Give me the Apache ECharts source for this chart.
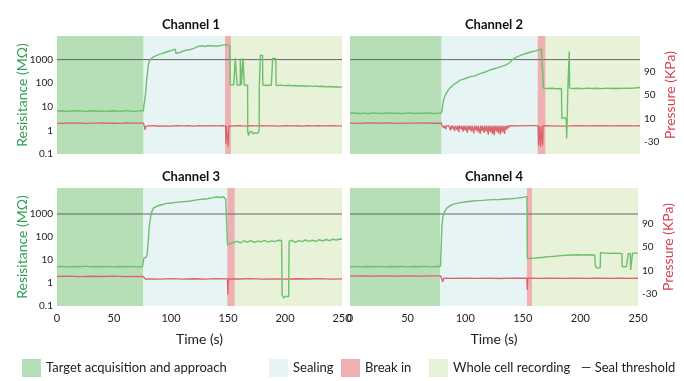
<!DOCTYPE html>
<html>
<head>
<meta charset="utf-8">
<script src="https://cdn.jsdelivr.net/npm/echarts@6/dist/echarts.min.js"></script>
<style>
  html, body { margin: 0; padding: 0; background: #fff; }
  #chart { width: 684px; height: 381px; }
</style>
</head>
<body>
<div id="chart"></div>
<script>
// ---- data ----
const channels = ['Channel 1', 'Channel 2', 'Channel 3', 'Channel 4'];
const phases = ['Target acquisition and approach', 'Sealing', 'Break in', 'Whole cell recording'];
const phaseColors = ['#b6dfb7', '#e6f4f4', '#efb0b3', '#e8f2d8'];
// phase boundaries in seconds, per channel
const phaseEdges = [
  [0, 76, 147.4, 152.6, 250],
  [0, 79, 161.8, 168.7, 250],
  [0, 75.7, 149.4, 156, 250],
  [0, 78.3, 153.6, 158, 250]
];
const sealThreshold = 1000;
const resTicks = [0.1, 1, 10, 100, 1000];
const presTicks = [-30, 10, 50, 90];

// resistance (MOhm) [time s, value]
const ch1Res = [
  [0,6.5],[4,6.8],[8,6.3],[12,6.7],[16,6.6],[20,6.9],[24,6.4],[28,6.6],[32,6.8],[36,6.5],[40,6.7],[44,6.4],[48,6.8],[52,6.6],[56,6.5],[60,6.9],[64,6.6],[68,6.4],[72,6.7],[75.8,6.8],
  [76.3,12],[77,20],[77.8,40],[78.5,120],[79.3,260],[80.2,600],[81,900],[82,1050],[84,1250],[86,1400],[88,1550],[90,1700],[92,1800],[94,1950],[96,2100],[98,2250],[100,2400],[102,2600],[103.8,2750],[104.3,1850],[106,1900],[108,2000],[110,2250],[112,2400],[114,2550],[116,2600],[118,2800],[120,3000],[122,3300],[124,3600],[126,3800],[128,3750],[130,3600],[132,3850],[134,3900],[136,3750],[138,3800],[140,3700],[142,3850],[144,3900],[146,4200],[147.4,4700],[148.5,4300],[150,4000],[151.5,3900],
  [152,85],[153.5,82],[155,86],[156.3,84],[156.4,1150],[157.2,1050],[157.9,1150],[158,83],[159.5,85],[160.7,82],[160.8,1100],[161.6,1150],[161.7,84],[163.1,82],[163.2,1150],[164.2,1100],[164.3,83],[166,85],[167.2,82],
  [167.3,0.9],[168,0.6],[169,0.85],[170,0.75],[171,0.9],[172,0.7],[173,0.85],[174,0.8],[175,0.9],[176,0.75],[177.3,0.95],
  [177.5,85],[178.3,82],[178.4,1550],[179.3,1350],[180.3,1500],[180.5,84],[182,86],[184,80],[186,83],[188,81],[189.1,84],[189.2,1150],[190.5,1250],[192,1100],[192.2,82],
  [194,80],[197,83],[200,79],[203,82],[206,78],[209,80],[212,76],[215,78],[218,74],[221,77],[224,73],[227,75],[230,72],[233,74],[236,70],[239,72],[242,69],[245,71],[248,68],[250,70]
];
const ch2Res = [
  [0,5.3],[4,5.5],[8,5.2],[12,5.4],[16,5.1],[20,5.5],[24,5.3],[28,5.2],[32,5.5],[36,5.3],[40,5.4],[44,5.2],[48,5.3],[52,5.5],[56,5.2],[60,5.4],[64,5.3],[68,5.5],[72,5.2],[76,5.4],[78.8,5.5],
  [79.5,8],[80.5,18],[82,30],[84,45],[86,62],[88,75],[90,92],[92,105],[95,135],[98,150],[101,170],[104,190],[107,200],[110,230],[113,260],[116,290],[119,340],[122,380],[125,420],[128,470],[131,520],[134,580],[137,700],[139,900],[141,1100],[144,1300],[147,1500],[150,1700],[153,1900],[156,2100],[159,2300],[162,2500],[165,2800],[166.5,2900],
  [166.8,62],[170,60],[174,61],[178,58],[182.3,60],[182.6,3.2],[184,2.8],[185.5,3.5],[186.5,2.5],[186.8,0.45],[187.2,2.5],[187.8,60],[188.7,62],[189,2200],[189.3,62],
  [193,60],[197,61],[201,59],[205,62],[209,60],[213,61],[217,59],[221,62],[225,60],[229,61],[233,60],[237,62],[241,61],[245,63],[250,66]
];
const ch3Res = [
  [0,5.1],[5,5.3],[10,5],[15,5.2],[20,5.1],[25,5.4],[30,5],[35,5.2],[40,5.1],[45,5.3],[50,5],[55,5.2],[60,5.1],[65,5.3],[70,5],[75,5.2],[75.8,5.3],
  [76.2,12],[77,11],[78,13],[79,17],[80,60],[81,300],[82,700],[83,1200],[84.5,1800],[87,2100],[90,2400],[93,2600],[96,2900],[100,3000],[104,3200],[108,3300],[112,3500],[116,3600],[120,3900],[124,4200],[128,4400],[132,4600],[136,5000],[140,5500],[143,5200],[146,5600],[148,4400],[149,4600],
  [149.6,45],[152,52],[155,58],[158,65],[161,55],[164,68],[167,60],[170,70],[173,58],[176,66],[179,62],[182,72],[185,60],[188,68],[191,63],[194,72],[197,70],
  [197.5,0.3],[199,0.22],[200.5,0.27],[202,0.24],[203.2,0.25],[203.6,65],
  [206,72],[209,58],[212,70],[215,63],[218,75],[221,65],[224,72],[227,64],[230,76],[233,68],[236,78],[239,70],[242,80],[245,74],[248,82],[250,80]
];
const ch4Res = [
  [0,5.1],[5,5.3],[10,5],[15,5.2],[20,5.1],[25,5.3],[30,5],[35,5.2],[40,5.1],[45,5.3],[50,5],[55,5.2],[60,5.1],[65,5.3],[70,5],[75,5.2],[78.5,5.2],
  [79.5,5.5],[79.8,300],[80.5,700],[82,1200],[84,1800],[87,2300],[90,2700],[93,2900],[97,3200],[101,3400],[105,3600],[110,3800],[115,3900],[120,4100],[125,4200],[130,4300],[135,4500],[140,4600],[145,4900],[150,5300],[153.6,5800],
  [153.9,12],[158,11.8],[163,12.5],[168,13.2],[173,14],[178,14.5],[183,15.5],[188,16],[193,16.5],[198,16.8],[203,16.5],[208,17],[212.5,16.5],
  [213,5.5],[214.5,4.5],[216,5],[217.2,4.6],[217.5,21],[218,25],[219,20],[224,19.5],[229,20],[234,19.5],[236,19.5],
  [236.3,5],[238,4.5],[240,5.2],[241.2,4.6],[241.5,19],[243.3,19],[243.6,3.7],[245,4],[245.3,20],[250,20]
];

// pressure (kPa) [time s, value]
const ch1Pres = [
  [0,2.5],[5,2],[10,2.8],[15,2.2],[20,2.6],[25,1.9],[30,2.5],[35,2.2],[40,2.8],[45,2.1],[50,2.5],[55,2],[60,2.7],[65,2.2],[70,2.5],[75.8,2.3],
  [76.5,-2],[77.3,-9],[78,-3],[80,-2.5],[85,-2],[90,-3],[95,-2.2],[100,-2.6],[105,-1.9],[110,-2.5],[115,-2.1],[120,-2.8],[125,-2],[130,-2.4],[135,-1.8],[140,-2.3],[145,-2],[147.9,-2.2],
  [148.2,-33],[148.5,-3],[150,-2.5],[150.3,-37],[150.7,-3],[152,-2.2],[155,-2.5],[160,-2],[165,-2.6],[170,-2.1],[175,-2.4],[180,-1.9],[185,-2.5],[190,-2.2],[195,-2.6],[200,-2],
  [205,-2.4],[210,-2.1],[215,-2.6],[220,-2],[225,-2.3],[230,-1.9],[235,-2.5],[240,-2.1],[245,-2.4],[250,-2.2]
];
const ch2Pres = [
  [0,2.5],[8,2],[16,2.8],[24,2.2],[32,2.6],[40,2],[48,2.5],[56,2.2],[64,2.7],[72,2.1],[78.8,2.4],
  [79.3,-2],[80.5,-2],[81,-6],[81.3,-2],[82.5,-2],[82.8,-8],[83.1,-2],[84.5,-2],[84.8,-5],[85.1,-2],[86.5,-2],[86.8,-10],[87.1,-2],[88,-2],[88.3,-7],[88.6,-2],
  [90,-2],[90.3,-11],[90.6,-2],[92,-2],[92.3,-9],[92.6,-2],[93.5,-2],[93.8,-13],[94.1,-2],[95.5,-2],[95.8,-8],[96.1,-2],[97.3,-2],[97.6,-12],[97.9,-2],[99,-2],[99.3,-10],[99.6,-2],
  [101,-2],[101.3,-14],[101.6,-2],[102.6,-2],[102.9,-9],[103.2,-2],[104.5,-2],[104.8,-12],[105.1,-2],[106.5,-2],[106.8,-15],[107.1,-2],[108.3,-2],[108.6,-10],[108.9,-2],
  [110,-2],[110.3,-13],[110.6,-2],[112,-2],[112.3,-16],[112.6,-2],[113.6,-2],[113.9,-11],[114.2,-2],[115.5,-2],[115.8,-14],[116.1,-2],[117.3,-2],[117.6,-12],[117.9,-2],
  [119,-2],[119.3,-17],[119.6,-2],[120.8,-2],[121.1,-13],[121.4,-2],[122.5,-2],[122.8,-16],[123.1,-2],[124.2,-2],[124.5,-18],[124.8,-2],[126,-2],[126.3,-12],[126.6,-2],
  [127.7,-2],[128,-15],[128.3,-2],[129.5,-2],[129.8,-17],[130.1,-2],[131.2,-2],[131.5,-13],[131.8,-2],[133,-2],[133.3,-16],[133.6,-2],[134.8,-2],[135.1,-9],[135.4,-2],
  [136.5,-2],[136.8,-6],[137.1,-2],
  [145,-2.5],[155,-2],[162.2,-2],[162.5,-36],[162.9,-3],[164,-2.5],[164.3,-38],[164.7,-3],[165.8,-2.4],[166.1,-35],[166.5,-2],
  [175,-2.3],[185,-2.6],[195,-2],[205,-2.4],[215,-2.1],[225,-2.5],[235,-2],[245,-2.3],[250,-2.1]
];
const ch3Pres = [
  [0,0],[10,0.5],[20,-0.3],[30,0.4],[40,0],[50,0.6],[60,-0.2],[70,0.3],[75.5,0],
  [76.5,-3],[78,-5],[80,-4],[90,-4.5],[100,-3.6],[110,-4.3],[120,-3.8],[130,-4.4],[140,-3.7],[149.5,-4],[149.9,-31],[150.3,-4],
  [160,-4.2],[170,-3.7],[180,-4.4],[190,-3.9],[200,-4.3],[210,-3.8],[220,-4.2],[230,-3.7],[240,-4.3],[250,-4]
];
const ch4Pres = [
  [0,0.8],[10,1.2],[20,0.5],[30,1],[40,0.6],[50,1.2],[60,0.7],[70,1.1],[78.5,1],
  [79.5,-3],[80.5,-9],[81.5,-3],[90,-3.2],[100,-2.7],[110,-3.3],[120,-2.8],[130,-3.4],[140,-2.9],[153.5,-3],[153.9,-23],[154.3,-3],
  [165,-3.2],[175,-2.7],[185,-3.3],[195,-2.8],[205,-3.2],[215,-2.9],[225,-3.3],[235,-2.8],[245,-3.2],[250,-3]
];
const resData = [ch1Res, ch2Res, ch3Res, ch4Res];
const presData = [ch1Pres, ch2Pres, ch3Pres, ch4Pres];

// ---- layout ----
const FONT = 'Lato, "Open Sans", sans-serif';
const grids = [
  {left: 57, top: 36, width: 285, height: 118},
  {left: 350, top: 36, width: 290, height: 118},
  {left: 57, top: 188, width: 285, height: 118},
  {left: 350, top: 188, width: 288, height: 118}
];
const resMax = [10000, 10000, 13500, 13500];
const titleX = [186, 489, 186, 489];
const titleY = [13, 13, 165, 165];

const greenLine = '#6cbf6e';
const redLine = '#d9646b';

function near(v, list) {
  return list.some(t => Math.abs(v - t) <= Math.abs(t) * 1e-6 + 1e-9);
}

let xAxis = [], yAxis = [], series = [], title = [];

grids.forEach((g, k) => {
  title.push({
    text: channels[k], left: titleX[k], top: titleY[k], textAlign: 'center',
    textStyle: {fontSize: 13, fontWeight: 'bold', color: '#111', fontFamily: FONT}
  });

  xAxis.push({
    type: 'value', gridIndex: k, min: 0, max: 250, interval: 50,
    axisLine: {show: false}, axisTick: {show: false}, splitLine: {show: false},
    axisLabel: {show: k >= 2, fontSize: 11, color: '#222', margin: 7, fontFamily: FONT},
    name: k >= 2 ? 'Time (s)' : '', nameLocation: 'middle', nameGap: 26,
    nameTextStyle: {fontSize: 14, color: '#222', fontFamily: FONT}
  });

  // left: resistance (log)
  yAxis.push({
    type: 'log', logBase: 10, gridIndex: k, min: 0.1, max: resMax[k], position: 'left',
    axisLine: {show: false}, axisTick: {show: false}, splitLine: {show: false},
    axisLabel: {
      show: k % 2 === 0, fontSize: 10, color: '#222', margin: 4, fontFamily: FONT,
      formatter: v => near(v, resTicks) ? String(resTicks.find(t => near(v, [t]))) : ''
    },
    name: k % 2 === 0 ? 'Resisitance (MΩ)' : '', nameLocation: 'middle', nameGap: 28,
    nameMoveOverlap: false,
    nameTextStyle: {fontSize: 14, color: '#2e9f55', fontFamily: FONT}
  });
  // right: pressure
  yAxis.push({
    type: 'value', gridIndex: k, min: -50, max: 150, interval: 10, position: 'right',
    axisLine: {show: false}, axisTick: {show: false}, splitLine: {show: false},
    axisLabel: {
      show: k % 2 === 1, fontSize: 10, color: '#222', margin: 4, fontFamily: FONT,
      formatter: v => presTicks.indexOf(v) >= 0 ? String(v) : ''
    },
    name: k % 2 === 1 ? 'Pressure (KPa)' : '', nameLocation: 'middle', nameGap: 23,
    nameMoveOverlap: false,
    nameTextStyle: {fontSize: 14, color: '#d4434f', fontFamily: FONT}
  });

  // phase backgrounds
  phases.forEach((p, i) => {
    series.push({
      name: p, type: 'line', xAxisIndex: k, yAxisIndex: 2 * k, data: [], z: 1,
      itemStyle: {color: phaseColors[i]}, lineStyle: {color: phaseColors[i]},
      markArea: {
        silent: true, itemStyle: {color: phaseColors[i], opacity: 1},
        data: [[{xAxis: phaseEdges[k][i]}, {xAxis: phaseEdges[k][i + 1]}]]
      }
    });
  });

  // seal threshold
  series.push({
    name: 'Seal threshold', type: 'line', xAxisIndex: k, yAxisIndex: 2 * k, z: 2,
    data: [[0, sealThreshold], [250, sealThreshold]], symbol: 'none', silent: true,
    itemStyle: {color: '#666'}, lineStyle: {color: '#666', width: 1}
  });

  series.push({
    name: channels[k] + ' resistance', type: 'line', xAxisIndex: k, yAxisIndex: 2 * k, z: 4,
    data: resData[k], symbol: 'none', silent: true,
    lineStyle: {color: greenLine, width: 1.4}
  });
  series.push({
    name: channels[k] + ' pressure', type: 'line', xAxisIndex: k, yAxisIndex: 2 * k + 1, z: 3,
    data: presData[k], symbol: 'none', silent: true,
    lineStyle: {color: redLine, width: 1.3}
  });
});

const legendLeft = [17, 264, 336, 424, 552];
const legendText = {fontSize: 13, color: '#222', fontFamily: FONT};
let legend = phases.map((p, i) => ({
  data: [p], left: legendLeft[i], top: 354, icon: 'rect', itemWidth: 19, itemHeight: 18,
  selectedMode: false, textStyle: legendText
}));
legend.push({
  data: [{name: 'Seal threshold', icon: 'none'}], left: legendLeft[4], top: 354,
  itemWidth: 19, itemHeight: 18, selectedMode: false, textStyle: legendText,
  formatter: '— {name}'
});

const myChart = echarts.init(document.getElementById('chart'));
myChart.setOption({
  animation: false,
  textStyle: {fontFamily: FONT},
  title: title,
  legend: legend,
  grid: grids,
  xAxis: xAxis,
  yAxis: yAxis,
  series: series
});
</script>
</body>
</html>
